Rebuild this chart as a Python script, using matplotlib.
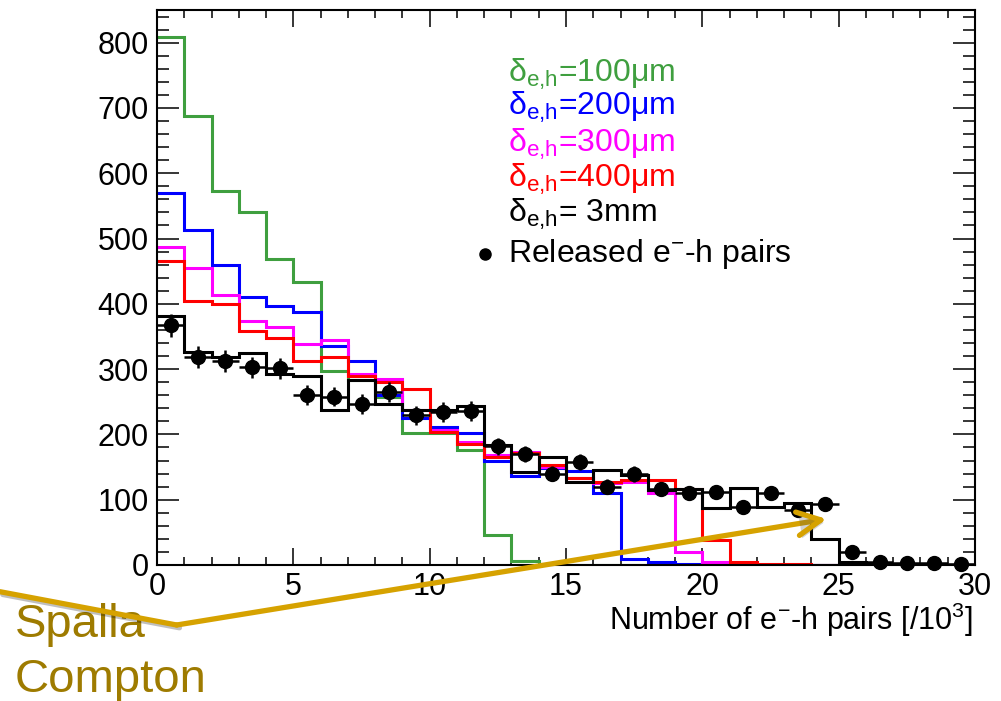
import numpy as np
import matplotlib
matplotlib.use("Agg")
import matplotlib.pyplot as plt
from matplotlib.patches import FancyArrowPatch
from matplotlib.lines import Line2D
import matplotlib.patheffects as pe

plt.rcParams['font.family'] = ['Liberation Sans', 'DejaVu Sans']
plt.rcParams['mathtext.fontset'] = 'custom'
plt.rcParams['mathtext.rm'] = 'Liberation Sans'
plt.rcParams['mathtext.it'] = 'Liberation Sans:italic'
plt.rcParams['mathtext.bf'] = 'Liberation Sans:bold'

# ---- data (bins of 1000 e-h pairs, 0..30) ----
bin_edges = list(range(0, 31))
d100 = [809, 687, 573, 541, 468, 434, 297, 284, 258, 202, 202, 176, 46, 6, 0,
        0, 0, 0, 0, 0, 0, 0, 0, 0, 0, 0, 0, 0, 0, 0]
d200 = [569, 513, 459, 410, 397, 387, 336, 313, 260, 225, 211, 202, 160, 136, 148,
        144, 110, 9, 4, 2, 1, 0, 0, 0, 0, 0, 0, 0, 0, 0]
d300 = [487, 455, 413, 374, 365, 339, 344, 292, 285, 238, 206, 189, 168, 173, 150,
        134, 125, 127, 110, 20, 5, 1, 0, 0, 0, 0, 0, 0, 0, 0]
d400 = [465, 405, 399, 359, 348, 312, 318, 290, 281, 270, 204, 185, 166, 171, 153,
        133, 127, 130, 130, 116, 39, 5, 2, 1, 0, 0, 0, 0, 0, 0]
d3mm = [381, 326, 318, 325, 293, 290, 238, 284, 247, 237, 237, 243, 184, 143, 166,
        127, 145, 138, 115, 117, 87, 118, 89, 95, 40, 5, 2, 1, 0, 0]
released = [367, 318, 313, 303, 301, 260, 258, 247, 265, 229, 234, 236, 182, 170, 140,
            158, 120, 139, 116, 110, 112, 89, 110, 84, 94, 20, 4, 3, 3, 2]
released_err = [18, 17, 17, 16, 16, 15, 15, 15, 15, 14, 15, 15, 13, 13, 12,
                12, 11, 12, 11, 10, 11, 9, 10, 9, 10, 5, 2, 2, 2, 1]

series_labels = [r"δ$_{\rm e{,}h}$=100μm", r"δ$_{\rm e{,}h}$=200μm", r"δ$_{\rm e{,}h}$=300μm",
                 r"δ$_{\rm e{,}h}$=400μm", r"δ$_{\rm e{,}h}$= 3mm"]
points_label = r"Released e$^{-}$-h pairs"
xlabel = r"Number of e$^{-}$-h pairs [/10$^{3}$]"
annot_lines = ["Spalla", "Compton"]

colors = ['#3f9f3f', '#0000ff', '#ff00ff', '#ff0000', '#000000']
gold_line = '#d6a200'
gold_text = '#9e7b00'

W, H = 1001, 701
fig = plt.figure(figsize=(W / 100, H / 100), dpi=100)
L, R, B, T = 157, 975, 565, 10
ax = fig.add_axes([L / W, 1 - B / H, (R - L) / W, (B - T) / H])

edges = np.array(bin_edges, dtype=float)
for vals, c in zip([d100, d200, d300, d400, d3mm], colors):
    ax.stairs(vals, edges, color=c, lw=2.2, baseline=None, zorder=2)

centers = (edges[:-1] + edges[1:]) / 2
ax.errorbar(centers, released, yerr=released_err, xerr=0.5, fmt='o', color='black',
            ms=10, elinewidth=1.8, capsize=0, zorder=4, clip_on=False)

ax.set_xlim(0, 30)
ax.set_ylim(0, 850)
ax.set_xticks(np.arange(0, 31, 5))
ax.set_xticks(np.arange(0, 31, 1), minor=True)
ax.set_yticks(np.arange(0, 801, 100))
ax.set_yticks(np.arange(0, 841, 20), minor=True)
ax.tick_params(axis='both', which='both', direction='in', top=True, right=True,
               labelsize=22, width=1.1)
ax.tick_params(axis='y', which='major', length=16, pad=6)
ax.tick_params(axis='y', which='minor', length=8.5)
ax.tick_params(axis='x', which='major', length=12, pad=5)
ax.tick_params(axis='x', which='minor', length=6)
for s in ax.spines.values():
    s.set_linewidth(1.5)

ax.set_xlabel(xlabel, fontsize=22, loc='right')
ax.xaxis.set_label_coords(0.998, -0.064)

# legend as coloured text
lx = (508 - L) / (R - L)
base_px = [81.7, 115, 151.7, 186.7, 221.7]
for lab, c, by in zip(series_labels, colors, base_px):
    ax.text(lx, (B - by) / (B - T), lab, color=c, fontsize=23, transform=ax.transAxes,
            ha='left', va='baseline')
ax.text(lx, (B - 261.7) / (B - T), points_label, color='black', fontsize=23,
        transform=ax.transAxes, ha='left', va='baseline')
ax.plot([(485 - L) / (R - L)], [(B - 254) / (B - T)], 'o', color='black', ms=8,
        transform=ax.transAxes, clip_on=False)

# annotation text + arrow
fig.text(15 / W, 1 - 637 / H, annot_lines[0], color=gold_text, fontsize=34,
         ha='left', va='baseline')
fig.text(15 / W, 1 - 692 / H, annot_lines[1], color=gold_text, fontsize=34,
         ha='left', va='baseline')

shadow = [pe.SimpleLineShadow(offset=(2, -2), alpha=0.25), pe.Normal()]
seg = Line2D([0, 176.7 / W], [1 - 591.7 / H, 1 - 625 / H], transform=fig.transFigure,
             color=gold_line, lw=3.8, solid_capstyle='round', zorder=10)
seg.set_path_effects(shadow)
fig.add_artist(seg)
arr = FancyArrowPatch((176.7 / W, 1 - 625 / H), (826.7 / W, 1 - 519 / H),
                      transform=fig.transFigure,
                      arrowstyle='->,head_length=1.7,head_width=0.85',
                      mutation_scale=10, color=gold_line, lw=3.8,
                      shrinkA=0, shrinkB=0, zorder=10, capstyle='round',
                      joinstyle='round')
arr.set_path_effects([pe.SimplePatchShadow(offset=(2, -2), alpha=0.25), pe.Normal()])
fig.add_artist(arr)

fig.savefig('out.png', dpi=100)
